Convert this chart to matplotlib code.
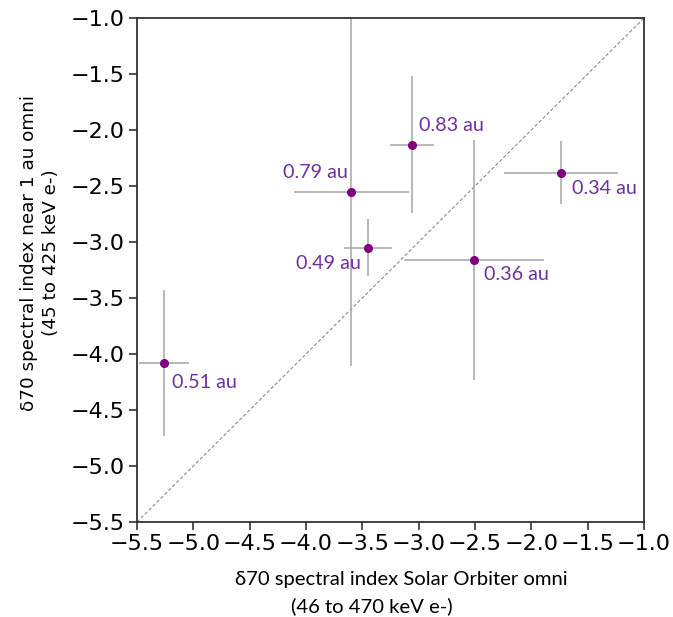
import matplotlib
matplotlib.use("Agg")
import matplotlib.pyplot as plt
import numpy as np

labels = ["0.51 au", "0.79 au", "0.83 au", "0.49 au", "0.34 au", "0.36 au"]
x_vals = [-5.26, -3.60, -3.06, -3.45, -1.74, -2.51]
y_vals = [-4.08, -2.55, -2.13, -3.05, -2.38, -3.16]
x_err = [0.22, 0.51, 0.195, 0.216, 0.505, 0.62]
y_err = [0.65, 1.56, 0.61, 0.255, 0.278, 1.07]
label_offsets = [(8, -20), (-3, 19), (7, 19), (-7, -16), (11, -16), (10, -15)]
label_ha = ["left", "right", "left", "right", "left", "left"]
ticks = [-5.5, -5.0, -4.5, -4.0, -3.5, -3.0, -2.5, -2.0, -1.5, -1.0]
xlabel_lines = ["\u03b470 spectral index Solar Orbiter omni", "(46 to 470 keV e-)"]
ylabel_text = "\u03b470 spectral index near 1 au omni\n(45 to 425 keV e-)"

fig = plt.figure(figsize=(6.73, 6.17), dpi=100)
ax = fig.add_axes([137/673, 1-522/617, (644-137)/673, (522-18)/617])

ax.plot([-5.5, -1.0], [-5.5, -1.0], linestyle=(0, (3, 2)), color="#888888", linewidth=0.8, zorder=1)
ax.errorbar(x_vals, y_vals, xerr=x_err, yerr=y_err, fmt="none", ecolor="#a6a6a6",
            elinewidth=1.1, capsize=0, zorder=2)
ax.plot(x_vals, y_vals, "o", color="#800080", markersize=5.5, zorder=3, linestyle="none")

for xv, yv, lab, off, ha in zip(x_vals, y_vals, labels, label_offsets, label_ha):
    ax.annotate(lab, (xv, yv), xytext=(off[0]*0.72, off[1]*0.72), textcoords="offset points",
                ha=ha, va="center", color="#7030A0", fontsize=14.2, family="Lato")

ax.set_xlim(-5.5, -1.0)
ax.set_ylim(-5.5, -1.0)
ax.set_xticks(ticks)
ax.set_yticks(ticks)
ax.set_xticklabels([f"{t:.1f}".replace("-", "\u2212") for t in ticks])
ax.set_yticklabels([f"{t:.1f}".replace("-", "\u2212") for t in ticks])
ax.tick_params(labelsize=16, length=6, width=1.2, color="#333333", pad=3)
for s in ax.spines.values():
    s.set_linewidth(1.3)
    s.set_color("#333333")

fig.text(401/673, 1-580/617, xlabel_lines[0], ha="center", va="center",
         fontsize=14.6, family="Lato")
fig.text(372/673, 1-606/617, xlabel_lines[1], ha="center", va="center",
         fontsize=14.6, family="Lato")
fig.text(40/673, 1-253/617, ylabel_text,
         rotation=90, ha="center", va="center", multialignment="center",
         fontsize=13.2, linespacing=1.3)

fig.savefig("out.png", dpi=100)
